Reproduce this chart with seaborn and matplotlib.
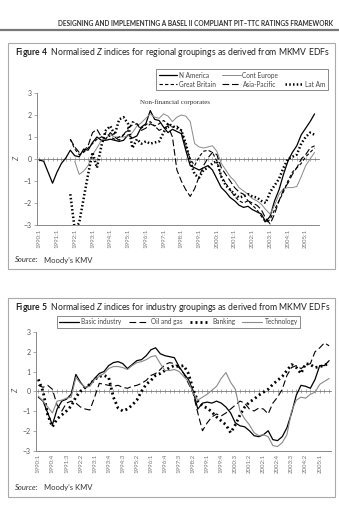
import numpy as np
import pandas as pd
import seaborn as sns
import matplotlib.pyplot as plt
from matplotlib.patches import Rectangle
from matplotlib.lines import Line2D

sns.set_theme(style='white')
plt.rcParams['font.family'] = ['Lato', 'DejaVu Sans']
plt.rcParams['mathtext.fontset'] = 'custom'
plt.rcParams['mathtext.rm'] = 'Lato'
plt.rcParams['mathtext.it'] = 'Lato:italic'
plt.rcParams['mathtext.bf'] = 'Lato:bold'

nan = np.nan

# quarterly periods 1990:1 .. 2005:3
periods = [f'{y}:{q}' for y in range(1990, 2006) for q in range(1, 5)][:63]

# ---- Figure 4: regional groupings ----
n_america = [-0.05, -0.1, -0.6, -1.1, -0.6, -0.2, 0.05, 0.4, 0.15, 0.1,
             0.45, 0.4, 0.75, 1.0, 0.85, 0.85, 0.9, 0.85, 0.8, 0.85,
             1.1, 0.95, 1.05, 1.45, 1.6, 2.2, 1.8, 1.75, 1.45, 1.2,
             1.35, 1.25, 1.15, 0.4, -0.3, -0.4, -0.5, -0.4, -0.3, -0.5,
             -0.9, -1.3, -1.5, -1.75, -1.9, -2.1, -2.2, -2.15, -2.3, -2.4,
             -2.5, -2.85, -2.6, -1.9, -1.4, -0.7, -0.1, 0.3, 0.6, 1.1,
             1.4, 1.7, 2.05]
cont_europe = [nan] * 8 + [-0.1, -0.7,
               -0.55, -0.3, 0.2, 0.5, 0.85, 0.95, 1.1, 1.0, 1.0, 1.0,
               1.05, 1.2, 1.5, 1.65, 1.85, 2.05, 1.9, 1.85, 2.05, 1.95,
               1.7, 1.9, 2.0, 1.95, 1.7, 0.7, 0.55, 0.5, 0.55, 0.6,
               0.35, -0.2, -0.5, -0.8, -1.0, -1.3, -1.45, -1.6, -1.8, -1.9,
               -2.05, -2.3, -2.5, -2.1, -1.6, -1.35, -1.3, -1.3, -1.25, -0.8,
               -0.3, 0.0, 0.3]
great_britain = [nan] * 7 + [0.9, 0.45, 0.2,
                 0.3, 0.5, 0.7, 0.9, 1.0, 1.2, 1.0, 0.9, 1.0, 1.1,
                 1.3, 1.7, 1.6, 1.4, 1.55, 1.7, 1.5, 1.6, 1.75, 1.6,
                 1.45, 1.5, 1.3, 0.6, 0.0, -0.3, 0.1, 0.35, 0.4, 0.3,
                 -0.1, -0.8, -1.1, -1.4, -1.7, -1.9, -2.0, -1.9, -2.1, -2.3,
                 -2.6, -2.9, -2.75, -2.3, -1.9, -1.5, -1.0, -0.6, -0.4, -0.2,
                 0.1, 0.3, 0.5]
asia_pacific = [nan] * 7 + [0.9, 0.55, 0.3,
                0.35, 0.6, 1.2, 1.35, 1.0, 0.9, 1.2, 1.0, 0.85, 1.1,
                1.4, 1.55, 1.6, 1.3, 1.4, 1.6, 1.5, 1.3, 1.4, 1.5,
                1.0, -0.5, -1.0, -1.4, -1.7, -1.35, -0.8, -0.3, 0.05, 0.3,
                0.2, -0.4, -0.7, -1.0, -1.3, -1.5, -1.6, -1.9, -2.0, -2.1,
                -2.3, -2.7, -2.95, -2.5, -1.9, -1.4, -1.1, -0.7, -0.4, 0.0,
                0.2, 0.5, 0.6]
lat_am = [nan] * 7 + [-1.6, -3.2, -2.9,
          -1.8, -0.7, 0.3, -0.4, 0.6, 1.3, 1.5, 1.1, 1.8, 1.9,
          1.6, 0.5, 0.9, 0.7, 0.8, 0.7, 0.75, 0.8, 1.2, 1.6,
          1.5, 1.4, 1.3, 0.7, -0.1, -0.7, -0.85, -0.5, -0.4, -0.2,
          -0.1, -0.8, -1.2, -1.4, -1.6, -1.75, -1.7, -1.6, -1.7, -1.75,
          -1.9, -2.0, -1.5, -1.2, -0.9, -0.4, 0.0, 0.1, 0.2, 0.7,
          1.0, 1.2, 1.1]

# ---- Figure 5: industry groupings ----
basic_industry = [-0.3, -0.5, -1.1, -1.7, -0.9, -0.5, -0.4, -0.15, 0.85, 0.45,
                  0.15, 0.35, 0.65, 0.9, 1.0, 1.3, 1.45, 1.5, 1.4, 1.15,
                  1.35, 1.55, 1.6, 1.8, 2.1, 2.2, 1.9, 1.8, 1.75, 1.7,
                  1.25, 0.9, 0.6, 0.0, -0.9, -0.6, -0.55, -0.6, -0.5, -0.6,
                  -0.8, -1.1, -1.6, -1.75, -1.8, -2.0, -2.25, -2.3, -2.2, -2.0,
                  -2.45, -2.5, -2.3, -1.85, -1.1, -0.2, 0.3, 0.25, 0.15, 0.6,
                  1.3, 1.3, 1.55]
oil_and_gas = [0.3, 0.2, 0.3, 0.1, -0.7, -1.0, -0.6, -0.5, -0.6, -0.8,
               -0.9, -0.95, -0.3, 0.4, 0.35, 0.3, 0.25, 0.3, 0.2, 0.15,
               0.25, 0.3, 0.4, 0.55, 0.8, 0.9, 1.1, 1.35, 1.45, 1.4,
               1.2, 0.9, 0.4, -0.1, -1.1, -2.0, -1.6, -1.3, -1.15, -1.25,
               -1.1, -0.9, -0.7, -0.5, -0.6, -0.9, -1.0, -0.85, -0.9, -1.15,
               -0.6, -0.3, 0.1, 0.8, 1.2, 1.3, 1.15, 1.3, 1.4, 2.0,
               2.2, 2.45, 2.3]
banking = [0.6, 0.0, -1.2, -1.8, -1.4, -1.2, -1.0, -0.75, -0.3, 0.0,
           0.2, 0.35, 0.6, 0.75, 0.8, 0.7, -0.3, -0.85, -1.0, -0.9,
           -0.7, -0.45, 0.0, 0.35, 0.55, 0.8, 0.9, 1.05, 1.2, 1.3,
           1.25, 1.3, 0.9, 0.1, -0.5, -0.75, -0.85, -1.05, -1.3, -1.5,
           -1.7, -2.1, -1.7, -1.2, -0.8, -0.55, -0.4, -0.2, -0.05, 0.1,
           0.35, 0.55, 0.75, 1.05, 1.35, 1.2, 0.9, 1.4, 1.35, 1.2,
           1.25, 1.3, 1.45]
technology = [-0.25, -0.5, -0.8, -1.1, -0.5, -0.45, -0.35, -0.3, 0.7, 0.4,
              0.2, 0.25, 0.6, 0.75, 0.9, 1.15, 1.25, 1.25, 1.2, 1.1,
              1.3, 1.45, 1.5, 1.6, 1.75, 1.8, 1.4, 1.05, 1.05, 1.1,
              1.0, 0.75, 0.5, -0.1, -0.45, -0.3, -0.15, 0.05, 0.25, 0.65,
              0.95, 0.45, 0.1, -1.0, -1.4, -1.7, -2.1, -2.25, -2.2, -2.3,
              -2.75, -2.8, -2.6, -2.2, -1.0, -0.45, -0.3, -0.35, -0.15, -0.05,
              0.35, 0.5, 0.65]

W, H = 339, 511
fig = plt.figure(figsize=(W / 100, H / 100), dpi=100)
fig.patch.set_facecolor('white')


def fx(x):
    return x / W


def fy(y):
    return 1 - y / H


q = np.arange(len(periods))

# running header
fig.text(fx(333), fy(24), 'DESIGNING AND IMPLEMENTING A BASEL II COMPLIANT PIT\u2013TTC RATINGS FRAMEWORK',
         ha='right', va='center', fontsize=4.7, fontweight='bold', color='#333333')
fig.add_artist(Line2D([0, 1], [fy(30.5)] * 2, color='#777777', lw=1.6))


def panel(top, bottom, title, ax_rect, series, tick_step, xmax, source_y):
    fig.add_artist(Rectangle((fx(8), fy(bottom)), fx(335) - fx(8), fy(top) - fy(bottom),
                             transform=fig.transFigure, fill=False, ec='#aaaaaa', lw=0.8))
    fig.text(fx(15), fy(top + 9.5), title, fontsize=6.2, va='center', color='#222222')
    fig.text(fx(15), fy(source_y), 'Source:', fontsize=5.5, fontstyle='italic',
             va='center', color='#333333')
    fig.text(fx(44), fy(source_y), 'Moody\u2019s KMV', fontsize=5.5,
             va='center', color='#333333')

    ax = fig.add_axes([fx(ax_rect[0]), fy(ax_rect[3]), fx(ax_rect[2]) - fx(ax_rect[0]),
                       fy(ax_rect[1]) - fy(ax_rect[3])])
    lines = {}
    for name, vals, kw in series:
        df = pd.DataFrame({'q': q, 'z': vals}).dropna()
        sns.lineplot(data=df, x='q', y='z', ax=ax, estimator=None, errorbar=None, **kw)
        lines[name] = ax.get_lines()[-1]

    ax.set_xlim(-0.5, xmax)
    ax.set_ylim(-3, 3)
    ax.set_facecolor('none')
    for s in ['top', 'right']:
        ax.spines[s].set_visible(False)
    for s in ['left', 'bottom']:
        ax.spines[s].set_color('#888888')
        ax.spines[s].set_linewidth(0.7)
    ax.set_yticks(range(-3, 4))
    ax.set_yticklabels([str(v).replace('-', '\u2212') for v in range(-3, 4)])
    ax.tick_params(axis='y', direction='out', length=2.5, width=0.5, color='#888888',
                   labelsize=5, labelcolor='#555555', pad=1.5, left=True)
    ax.set_xticks(q[::tick_step])
    ax.set_xticklabels(periods[::tick_step], rotation=90)
    ax.tick_params(axis='x', length=0, labelsize=4.4, labelcolor='#777777', pad=2.5)
    ax.set_xlabel('')
    ax.set_ylabel('Z', fontstyle='italic', fontsize=5.5, color='#555555', labelpad=2)

    # category axis crossing at zero with quarterly tick marks
    sec = ax.secondary_xaxis(0.5)
    sec.set_xticks(q)
    sec.set_xticklabels([])
    sec.tick_params(direction='inout', length=2.2, width=0.4, color='#777777',
                    labeltop=False, labelbottom=False)
    for sp in sec.spines.values():
        sp.set_color('#777777')
        sp.set_linewidth(0.6)
    return ax, lines


def style_legend(leg):
    leg.get_frame().set_linewidth(0.6)
    for t in leg.get_texts():
        t.set_color('#444444')


solid_black = dict(color='black', linewidth=0.9)
series4 = [
    ('N America', n_america, solid_black),
    ('Cont Europe', cont_europe, dict(color='#8a8a8a', linewidth=0.7)),
    ('Great Britain', great_britain, dict(color='black', linewidth=0.8, linestyle=(0, (3, 2)))),
    ('Asia-Pacific', asia_pacific, dict(color='black', linewidth=0.8, linestyle=(0, (6, 2.5)))),
    ('Lat Am', lat_am, dict(color='black', linewidth=1.8, linestyle=(0, (0.6, 0.9)))),
]
ax1, l1 = panel(43, 269,
                r'$\mathbf{Figure\ 4}$  Normalised $\mathit{Z}$ indices for regional groupings as derived from MKMV EDFs',
                (37, 93, 319, 225), series4, 4, 63, 260)
dummy = Line2D([], [], color='none')
leg1 = ax1.legend([l1['N America'], l1['Great Britain'], l1['Cont Europe'], l1['Asia-Pacific'], dummy, l1['Lat Am']],
                  ['N America', 'Great Britain', 'Cont Europe', 'Asia-Pacific', '', 'Lat Am'],
                  ncol=3, loc='upper left', bbox_to_anchor=(fx(156), fy(69)), bbox_transform=fig.transFigure,
                  fontsize=4.7, frameon=True, fancybox=False, edgecolor='#777777', framealpha=1,
                  handlelength=2.8, columnspacing=1.0, borderpad=0.4, labelspacing=0.3, handletextpad=0.3,
                  borderaxespad=0)
style_legend(leg1)
fig.text(fx(140), fy(102), 'Non-financial corporates', fontsize=5, family='Liberation Serif',
         va='center', color='#333333')

series5 = [
    ('Basic industry', basic_industry, solid_black),
    ('Oil and gas', oil_and_gas, dict(color='black', linewidth=0.8, linestyle=(0, (6, 3)))),
    ('Banking', banking, dict(color='black', linewidth=2.0, linestyle=(0, (0.7, 1.1)))),
    ('Technology', technology, dict(color='#8a8a8a', linewidth=0.8)),
]
ax2, l2 = panel(298, 497,
                r'$\mathbf{Figure\ 5}$  Normalised $\mathit{Z}$ indices for industry groupings as derived from MKMV EDFs',
                (36, 332, 331, 450.5), series5, 3, 62.4, 487)
leg2 = ax2.legend([l2[k] for k in ['Basic industry', 'Oil and gas', 'Banking', 'Technology']],
                  ['Basic industry', 'Oil and gas', 'Banking', 'Technology'],
                  ncol=4, loc='upper left', bbox_to_anchor=(fx(57), fy(316)), bbox_transform=fig.transFigure,
                  fontsize=4.7, frameon=True, fancybox=False, edgecolor='#777777', framealpha=1,
                  handlelength=3.0, columnspacing=1.1, borderpad=0.35, handletextpad=0.4, borderaxespad=0)
style_legend(leg2)

fig.savefig('out.png', dpi=100, facecolor='white')
